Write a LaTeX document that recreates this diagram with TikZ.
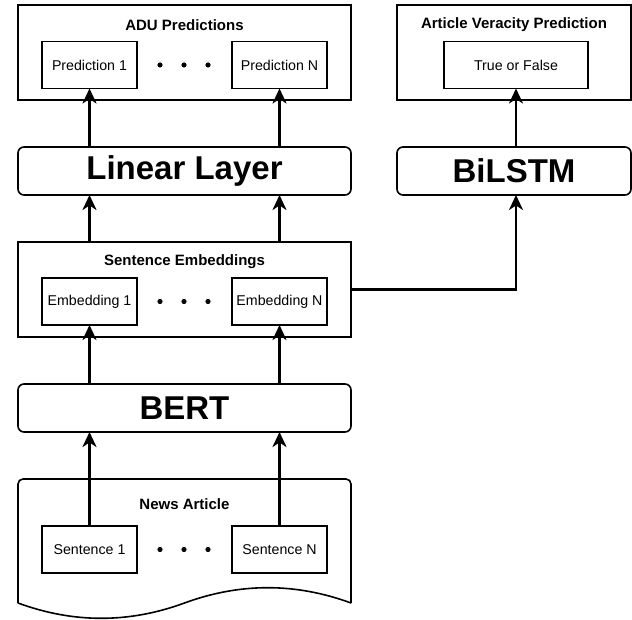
\documentclass[tikz,border=0pt]{standalone}
\usepackage{fontspec}
\setmainfont{Liberation Sans}
\usetikzlibrary{
  arrows.meta,
  positioning
}

\begin{document}
\begin{tikzpicture}[
  x=1pt, y=-1pt,
  group/.style={rectangle, draw, line width=1.6pt, minimum width=333pt, minimum height=95pt, inner sep=0pt, outer sep=0pt},
  item/.style={rectangle, draw, line width=1.6pt, minimum width=95pt, minimum height=47pt, inner sep=0pt, outer sep=0pt, font=\fontsize{14.2}{17}\selectfont},
  heading/.style={font=\bfseries\fontsize{15}{18}\selectfont, inner sep=0pt},
  layer/.style={rectangle, rounded corners=6pt, draw, line width=1.6pt, minimum width=333pt, minimum height=48pt, inner sep=0pt, outer sep=0pt, font=\bfseries\fontsize{33}{38}\selectfont},
  arr/.style={-{Stealth[length=15pt, width=14pt, inset=4.5pt]}, line width=2.8pt},
]
\useasboundingbox (0,0) rectangle (632,620);

% top row
\node[group] (adu) at (184.5,52.5) {};
\node[heading] (adutitle) at (184.5,25) {ADU Predictions};
\node[item] (pred1) at (89.5,65) {Prediction 1};
\node[item, right=95pt of pred1] (predN) {Prediction N};

\node[group, minimum width=234pt] (ver) at (514,52.5) {};
\node[heading] (vertitle) at (514,25) {Article Veracity Prediction};
\node[item, minimum width=144pt] (tf) at (516,65) {True or False};

% layers
\node[layer] (linear) at (184.5,171) {Linear Layer};
\node[layer, minimum width=234pt] (bilstm) at (514,171) {BiLSTM};

\node[group] (embs) at (184.5,289.5) {};
\node[heading] (embstitle) at (184.5,262) {Sentence Embeddings};
\node[item] (emb1) at (89.5,301.5) {Embedding 1};
\node[item, right=95pt of emb1] (embN) {Embedding N};

\node[layer] (bert) at (184.5,408) {BERT};

% news article
\draw[line width=1.6pt, rounded corners=5pt] (18,603) -- (18,479) -- (351,479) -- (351,603);
\draw[line width=1.6pt] (351,603) .. controls (295.5,582.6) and (240,582.6) .. (184.5,603)
  .. controls (129,623.4) and (73.5,623.4) .. (18,603);
\node[heading] (newstitle) at (184.5,504) {News Article};
\node[item] (sent1) at (89.5,549.5) {Sentence 1};
\node[item, right=95pt of sent1] (sentN) {Sentence N};

\foreach \y in {65,301.5,549.5}
  \foreach \x in {160,184,208}
    \fill (\x,\y) circle (2.6pt);

\draw[arr] (sent1.north) -- (sent1.north |- bert.south);
\draw[arr] (sentN.north) -- (sentN.north |- bert.south);
\draw[arr] (bert.north -| emb1.south) -- (emb1.south);
\draw[arr] (bert.north -| embN.south) -- (embN.south);
\draw[arr] (emb1.north |- embs.north) -- (emb1.north |- linear.south);
\draw[arr] (embN.north |- embs.north) -- (embN.north |- linear.south);
\draw[arr] (linear.north -| pred1.south) -- (pred1.south);
\draw[arr] (linear.north -| predN.south) -- (predN.south);
\draw[arr] (embs.east) -| (tf.south |- bilstm.south);
\draw[arr] (bilstm.north -| tf.south) -- (tf.south);

\end{tikzpicture}
\end{document}
